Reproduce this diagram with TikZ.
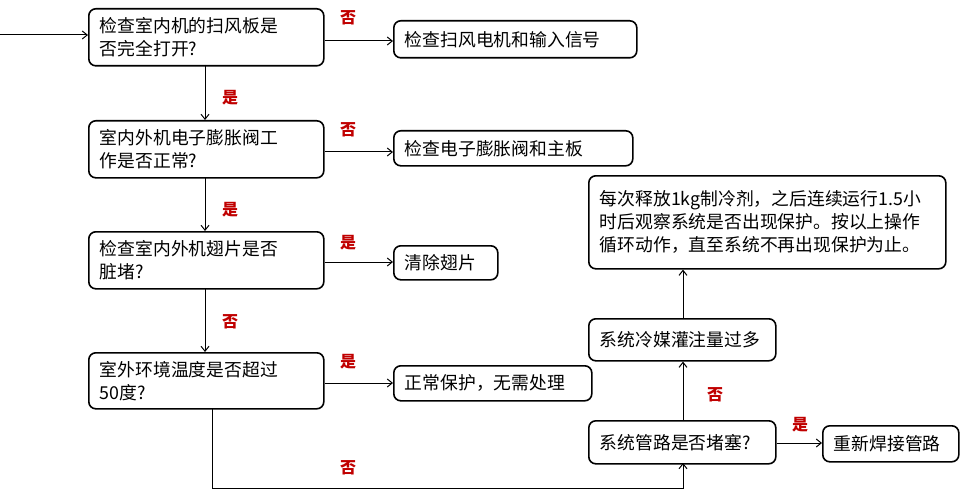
\documentclass[tikz,border=0pt]{standalone}
\usepackage{fontspec}
\setmainfont{Noto Sans CJK SC}
\usetikzlibrary{arrows.meta}
\definecolor{lab}{HTML}{C00000}
\begin{document}
\begin{tikzpicture}[x=1pt,y=-1pt,
  box/.style={draw,line width=1.6pt,rounded corners=7pt,anchor=north west,inner sep=0pt,font=\fontsize{17.8}{23}\selectfont,align=left},
  lbl/.style={text=lab,font=\bfseries\fontsize{16}{18}\selectfont},
  arr/.style={-{Straight Barb[length=5pt,width=8pt]},line width=1pt}]
\useasboundingbox (0,0) rectangle (969,500);
\newcommand{\bx}[6]{\node[box,minimum width=#4-#2,minimum height=#5-#3,text width=#4-#2-22] (#1) at (#2,#3) {#6};}
\bx{b1}{88}{8}{323}{65}{检查室内机的扫风板是\\否完全打开?}
\bx{r1}{393}{20}{636}{57}{检查扫风电机和输入信号}
\bx{b2}{88}{120}{323}{177}{室内外机电子膨胀阀工\\作是否正常?}
\bx{r2}{393}{130}{632}{165}{检查电子膨胀阀和主板}
\bx{b3}{88}{231}{323}{288}{检查室内外机翅片是否\\脏堵?}
\bx{r3}{393}{245}{497}{279}{清除翅片}
\bx{b4}{88}{352}{323}{408}{室外环境温度是否超过\\50度?}
\bx{r4}{393}{365}{591}{400}{正常保护，无需处理}
\bx{s1}{588}{420}{775}{463}{系统管路是否堵塞?}
\bx{s2}{588}{318}{775}{360}{系统冷媒灌注量过多}
\bx{s3}{588}{175}{945}{268}{每次释放1kg制冷剂，之后连续运行1.5小\\时后观察系统是否出现保护。按以上操作\\循环动作，直至系统不再出现保护为止。}
\bx{s4}{822}{425}{958}{461}{重新焊接管路}
\coordinate (in) at (0,35);
\draw[arr] (in) -- (b1.west|-in);
\draw[arr] (b1.east|-0,41) -- (r1.west|-0,41);
\draw[arr] (b2.east|-0,152) -- (r2.west|-0,152);
\draw[arr] (b3.east|-0,262) -- (r3.west|-0,262);
\draw[arr] (b4.east|-0,383) -- (r4.west|-0,383);
\draw[arr] (205,65) coordinate (t1) -- (t1|-b2.north);
\draw[arr] (205,177) coordinate (t2) -- (t2|-b3.north);
\draw[arr] (205,288) coordinate (t3) -- (t3|-b4.north);
\draw[arr] (212,408) coordinate (t4) -- (212,488) -- (683,488) -- (683,463);
\draw[arr] (683,420) -- (s2.south-|683,0);
\draw[arr] (683,318) -- (s3.south-|683,0);
\draw[arr] (s1.east|-0,443) -- (s4.west|-0,443);
\node[lbl] at (348,18) {否};
\node[lbl] at (348,130) {否};
\node[lbl] at (348,243) {是};
\node[lbl] at (348,362) {是};
\node[lbl] at (348,468) {否};
\node[lbl] at (230,98) {是};
\node[lbl] at (230,210) {是};
\node[lbl] at (230,322) {否};
\node[lbl] at (715,395) {否};
\node[lbl] at (800,425) {是};
\end{tikzpicture}
\end{document}
